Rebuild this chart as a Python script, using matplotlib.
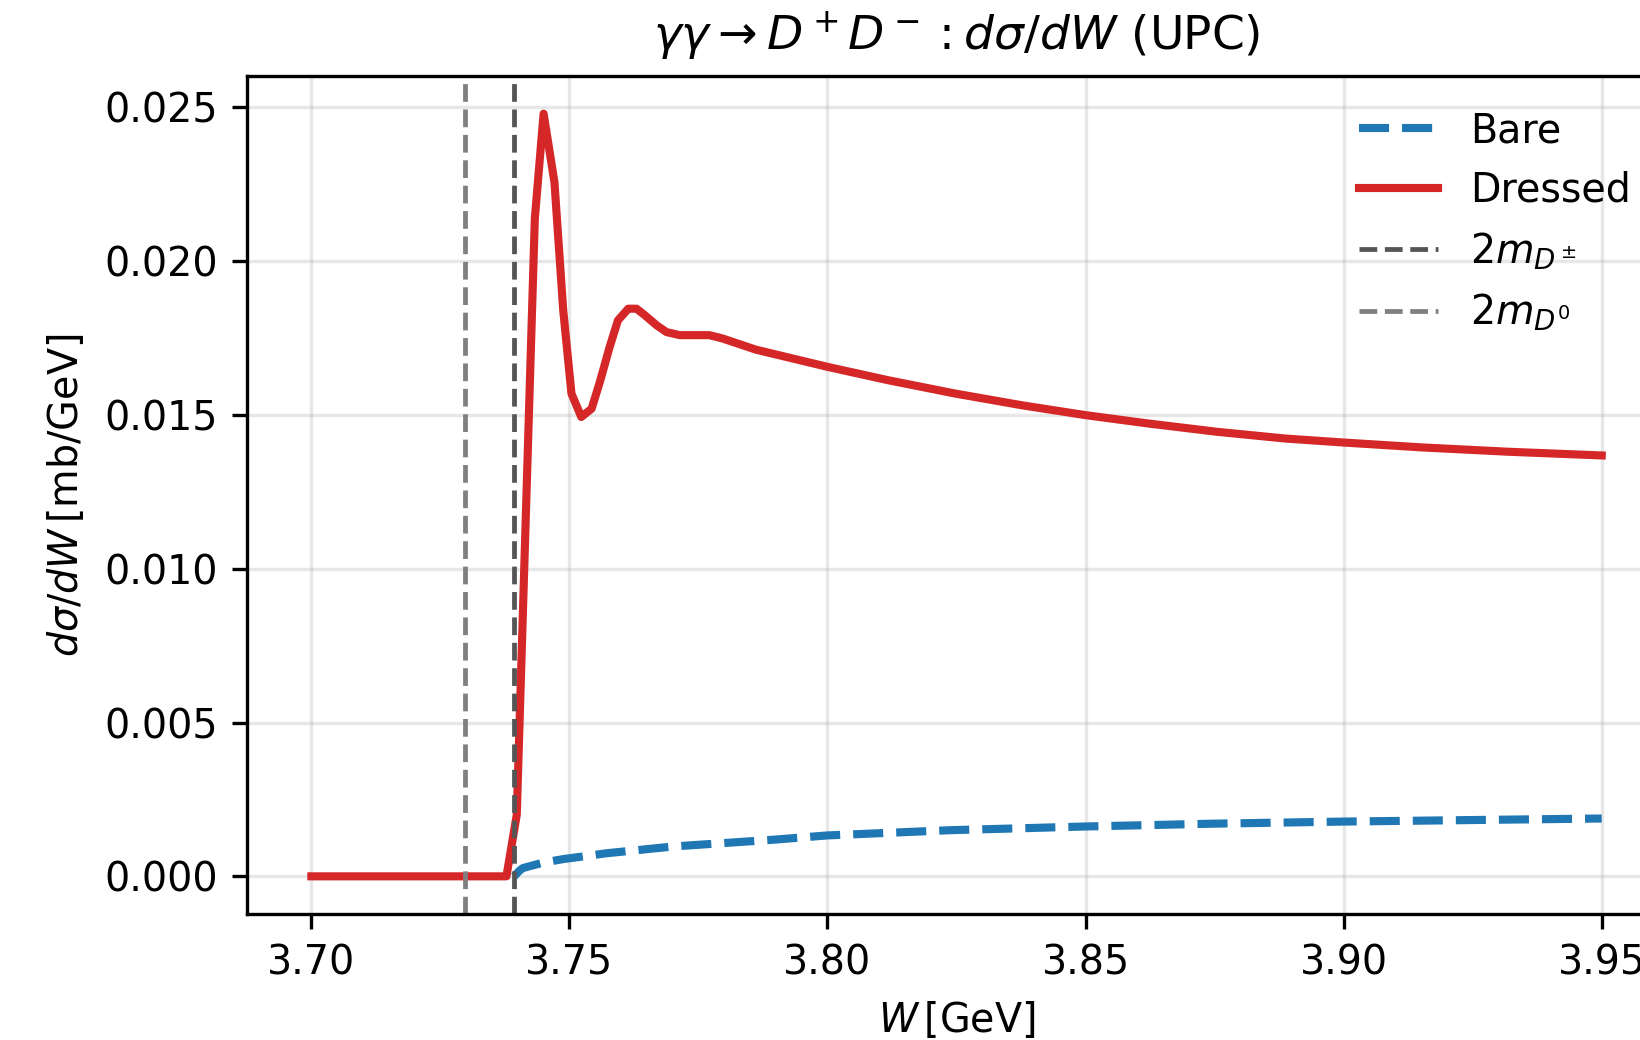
import matplotlib
matplotlib.use("Agg")
import matplotlib.pyplot as plt

# thresholds (GeV)
two_m_d_charged = 3.7393
two_m_d_neutral = 3.7297

# dressed cross section dsigma/dW (mb/GeV)
w_dressed = [3.7000, 3.7378, 3.7398, 3.7433, 3.7450, 3.7471, 3.7488, 3.7504,
             3.7523, 3.7543, 3.7559, 3.7578, 3.7594, 3.7614, 3.7630, 3.7646,
             3.7669, 3.7688, 3.7714, 3.7740, 3.7771, 3.7797, 3.7861, 3.8000,
             3.8119, 3.8248, 3.8377, 3.8500, 3.8621, 3.8754, 3.8887, 3.9000,
             3.9153, 3.9320, 3.9500]
sigma_dressed = [0.0, 0.0, 0.00200, 0.02138, 0.02479, 0.02256, 0.01840, 0.01569,
                 0.01493, 0.01520, 0.01607, 0.01721, 0.01807, 0.01845, 0.01845, 0.01824,
                 0.01791, 0.01769, 0.01759, 0.01759, 0.01759, 0.01748, 0.01712, 0.01656,
                 0.01612, 0.01569, 0.01531, 0.01499, 0.01472, 0.01445, 0.01423, 0.01410,
                 0.01394, 0.01380, 0.01368]

# bare cross section
w_bare = [3.7393, 3.7403, 3.7410, 3.7450, 3.7488, 3.7572, 3.7701, 3.7895,
          3.8000, 3.8238, 3.8500, 3.8742, 3.9000, 3.9249, 3.9500]
sigma_bare = [0.0, 0.00018, 0.00027, 0.00045, 0.00056, 0.00075, 0.00097, 0.00119,
              0.00133, 0.00150, 0.00162, 0.00171, 0.00178, 0.00183, 0.00188]

fs = 9.5

fig = plt.figure(figsize=(1640 / 300, 1040 / 300), dpi=300)
ax = fig.add_axes([0.1505, 0.1207, 0.8655, 0.8067])

ax.plot(w_bare, sigma_bare, "--", color="#1f77b4", lw=1.95, label="Bare")
ax.plot(w_dressed, sigma_dressed, "-", color="#d62728", lw=1.95, label="Dressed")
ax.axvline(two_m_d_charged, color="#555555", ls="--", lw=1.15, label=r"$2m_{D^\pm}$")
ax.axvline(two_m_d_neutral, color="#808080", ls="--", lw=1.15, label=r"$2m_{D^0}$")

ax.set_xlabel(r"$W\,$[GeV]", fontsize=fs)
ax.set_ylabel(r"$d\sigma/dW\,$[mb/GeV]", fontsize=fs)
ax.set_title(r"$\gamma\gamma \to D^+D^-: d\sigma/dW$ (UPC)", fontsize=11.3)
ax.tick_params(labelsize=fs)
ax.grid(alpha=0.3)
ax.legend(loc="upper right", frameon=False, fontsize=fs)

fig.savefig("out.png", dpi=300)
